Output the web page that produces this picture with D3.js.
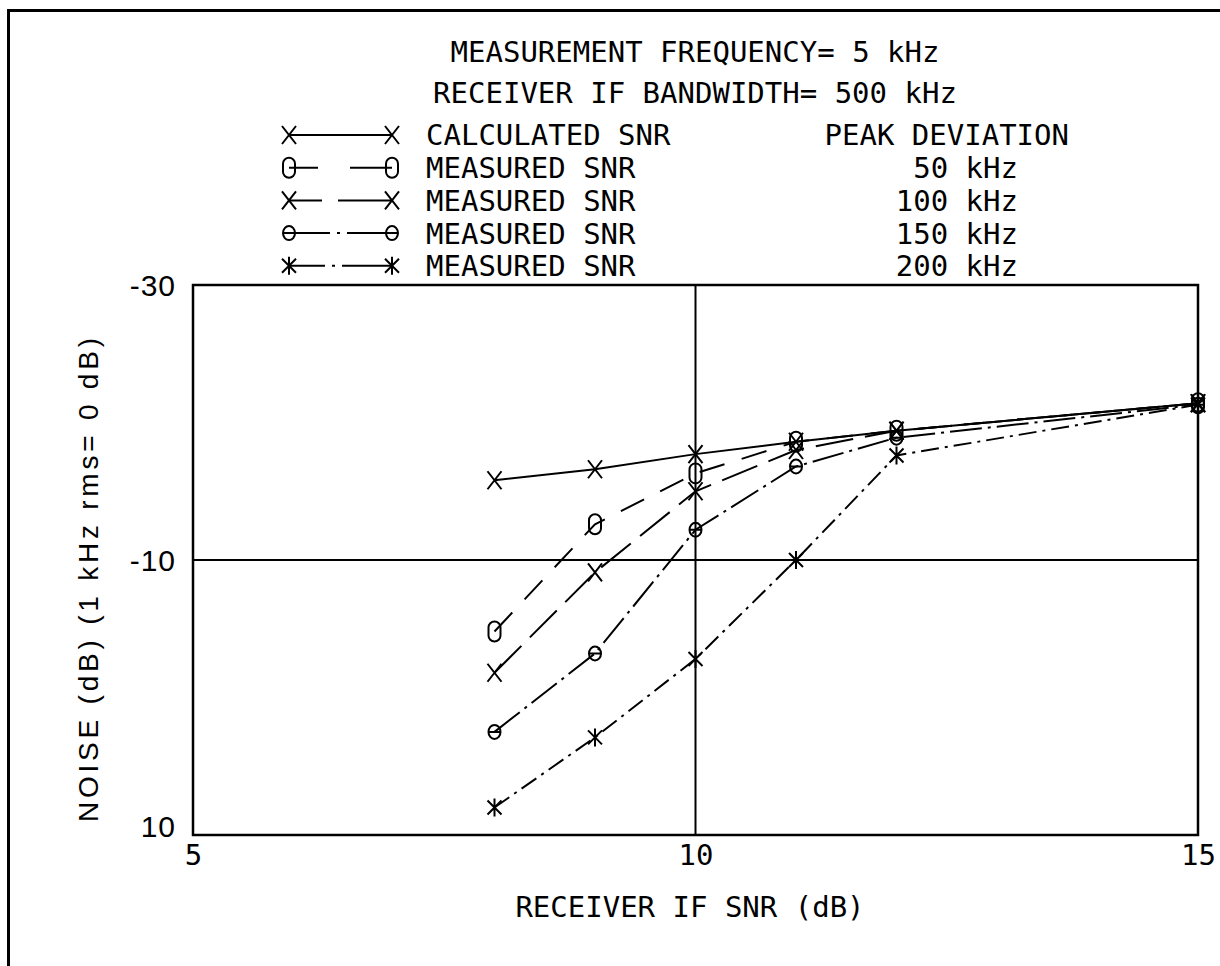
<!DOCTYPE html>
<html>
<head>
<meta charset="utf-8">
<script src="https://cdn.jsdelivr.net/npm/d3@7"></script>
<style>
  body { margin: 0; background: #fff; }
  svg { display: block; }
  .plot { font-family: "DejaVu Sans Mono", monospace; font-size: 29px; fill: #000; }
  .sans { font-family: "Liberation Sans", Arial, sans-serif; fill: #000; }
</style>
</head>
<body>
<svg id="chart" width="1220" height="966"></svg>
<script>
window.addEventListener("load", drawChart);

// the data
var snrValues = [8, 9, 10, 11, 12, 15];
var calculatedSNR = [-15.8, -16.6, -17.7, -18.6, -19.4, -21.4];
var measured50 = [-4.8, -12.6, -16.3, -18.6, -19.4, -21.4];
var measured100 = [-1.8, -9.1, -15.0, -18.0, -19.4, -21.4];
var measured150 = [2.5, -3.2, -12.2, -16.8, -18.9, -21.3];
var measured200 = [8.0, 2.9, -2.8, -10.0, -17.6, -21.3];

var xTicks = [5, 10, 15];
var yTicks = [-30, -10, 10];

var titleLines = ["MEASUREMENT FREQUENCY= 5 kHz", "RECEIVER IF BANDWIDTH= 500 kHz"];
var legendNames = ["CALCULATED SNR", "MEASURED SNR", "MEASURED SNR", "MEASURED SNR", "MEASURED SNR"];
var deviations = ["PEAK DEVIATION", "50 kHz", "100 kHz", "150 kHz", "200 kHz"];

function drawChart(){

    var svg = d3.select("#chart");

    var scX = d3.scaleLinear().domain([5, 15]).range([193, 1198]);
    var scY = d3.scaleLinear().domain([-30, 10]).range([285, 835]);

    // marker shapes, centred on 0,0
    var markers = {
        cross: "M-7,-9L7,9M-7,9L7,-9",
        zero: "M-6,-4A6,6 0 0 1 6,-4V4A6,6 0 0 1 -6,4Z",
        theta: "M-6,0A6,7 0 1 1 6,0A6,7 0 1 1 -6,0ZM-6,0H6",
        star: "M-7,-7L7,7M-7,7L7,-7M0,-9V9"
    };

    var series = [
        { values: calculatedSNR, marker: "cross", dash: null, legendDash: null },
        { values: measured50, marker: "zero", dash: "26,18", legendDash: "29,32,60" },
        { values: measured100, marker: "cross", dash: "38,12", legendDash: "33,16,60" },
        { values: measured150, marker: "theta", dash: "32,6,3,6", legendDash: "41,7,3,7,60" },
        { values: measured200, marker: "star", dash: "18,6,3,6", legendDash: "36,7,3,7,60" }
    ];

    // outer frame of the scanned page
    svg.append("path")
        .attr("d", "M8.5,966V10.5H1220")
        .attr("fill", "none").attr("stroke", "#000").attr("stroke-width", 3);

    // titles
    svg.selectAll("text.title")
        .data(titleLines).enter().append("text")
        .attr("class", "title plot")
        .attr("x", 695).attr("y", (d, i) => 52 + i * 41)
        .attr("dy", "0.36em").attr("text-anchor", "middle")
        .text(d => d);

    // legend
    var leg = svg.append("g");
    var rowY = i => 135 + i * 32.7;

    leg.selectAll("line")
        .data(series).enter().append("line")
        .attr("x1", 289).attr("x2", 392)
        .attr("y1", (d, i) => rowY(i)).attr("y2", (d, i) => rowY(i))
        .attr("stroke", "#000").attr("stroke-width", 2)
        .attr("stroke-dasharray", d => d.legendDash);

    series.forEach(function(s, i){
        [289, 392].forEach(function(x){
            leg.append("path")
                .attr("d", markers[s.marker])
                .attr("transform", "translate(" + x + "," + rowY(i) + ")")
                .attr("fill", "none").attr("stroke", "#000").attr("stroke-width", 2);
        });
    });

    leg.selectAll("text.name")
        .data(legendNames).enter().append("text")
        .attr("class", "name plot")
        .attr("x", 426).attr("y", (d, i) => rowY(i)).attr("dy", "0.36em")
        .text(d => d);

    leg.selectAll("text.dev")
        .data(deviations).enter().append("text")
        .attr("class", "dev plot")
        .attr("x", (d, i) => i == 0 ? 1069 : 1018)
        .attr("y", (d, i) => rowY(i)).attr("dy", "0.36em")
        .attr("text-anchor", "end")
        .text(d => d);

    // grid lines at 10 dB / -10 dB
    svg.append("line")
        .attr("x1", scX(10)).attr("x2", scX(10))
        .attr("y1", scY(-30)).attr("y2", scY(10))
        .attr("stroke", "#000").attr("stroke-width", 2);
    svg.append("line")
        .attr("x1", scX(5)).attr("x2", scX(15))
        .attr("y1", scY(-10)).attr("y2", scY(-10))
        .attr("stroke", "#000").attr("stroke-width", 2);

    // plot box
    svg.append("rect")
        .attr("x", scX(5)).attr("y", scY(-30))
        .attr("width", scX(15) - scX(5)).attr("height", scY(10) - scY(-30))
        .attr("fill", "none").attr("stroke", "#000").attr("stroke-width", 2.5);

    // axes
    var xAxis = svg.append("g")
        .attr("transform", "translate(0," + scY(10) + ")")
        .call(d3.axisBottom(scX).tickValues(xTicks).tickSize(0).tickPadding(9).tickFormat(d => String(d)));
    xAxis.select(".domain").remove();
    xAxis.attr("font-family", null).attr("font-size", null);
    xAxis.selectAll("text").attr("class", "plot");

    var yAxis = svg.append("g")
        .attr("transform", "translate(" + scX(5) + ",0)")
        .call(d3.axisLeft(scY).tickValues(yTicks).tickSize(0).tickPadding(17).tickFormat(d => String(d)));
    yAxis.select(".domain").remove();
    yAxis.attr("font-family", null).attr("font-size", null);
    yAxis.selectAll("text").attr("class", "sans").style("font-size", "30px")
        .attr("letter-spacing", 1)
        .attr("dy", (d, i) => i == 2 ? "0.05em" : "0.36em");

    // axis titles
    svg.append("text")
        .attr("class", "plot")
        .attr("x", 690).attr("y", 907).attr("dy", "0.36em")
        .attr("text-anchor", "middle")
        .text("RECEIVER IF SNR (dB)");

    svg.append("text")
        .attr("class", "sans").style("font-size", "28px")
        .attr("transform", "translate(88,580) rotate(-90)")
        .attr("dy", "0.36em").attr("text-anchor", "middle")
        .attr("textLength", 484).attr("lengthAdjust", "spacing")
        .text("NOISE (dB)  (1 kHz rms= 0 dB)");

    // data lines and markers
    var line = d3.line()
        .x((d, i) => scX(snrValues[i]))
        .y(d => scY(d));

    series.forEach(function(s){
        svg.append("path")
            .attr("d", line(s.values))
            .attr("fill", "none").attr("stroke", "#000").attr("stroke-width", 2)
            .attr("stroke-dasharray", s.dash);

        svg.append("g").selectAll("path")
            .data(s.values).enter().append("path")
            .attr("d", markers[s.marker])
            .attr("transform", (d, i) => "translate(" + scX(snrValues[i]) + "," + scY(d) + ")")
            .attr("fill", "none").attr("stroke", "#000").attr("stroke-width", 2);
    });
}
</script>
</body>
</html>
